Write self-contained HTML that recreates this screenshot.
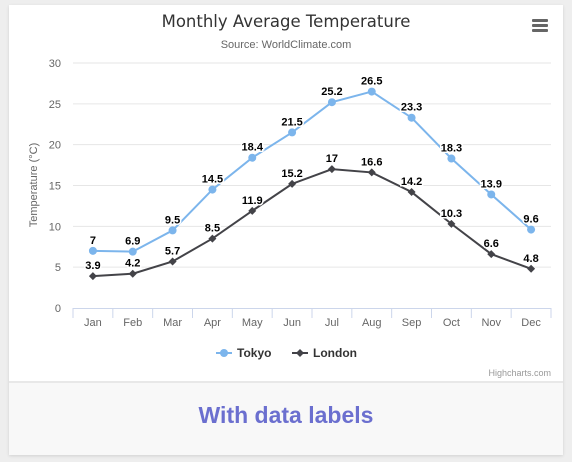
<!DOCTYPE html>
<html><head><meta charset="utf-8"><style>
html,body{margin:0;padding:0;background:#eeeeee;width:572px;height:462px;overflow:hidden;font-family:"Liberation Sans","DejaVu Sans",sans-serif}
#card{position:absolute;left:9px;top:5px;width:554px;height:450px;background:#fff;box-shadow:0 1px 3px rgba(0,0,0,0.12)}
#foot{position:absolute;left:9px;top:381px;width:554px;height:74px;background:#f8f8f8;border-top:2px solid #e8e8e8;box-sizing:border-box;text-align:center}
#foot span{display:block;margin-top:19px;font-size:23px;font-weight:bold;color:#6b6fcf}
svg{position:absolute;left:0;top:0}
</style></head><body>
<div id="card"></div>
<div id="foot"><span>With data labels</span></div>
<svg id="c" width="572" height="380" font-family="Liberation Sans, DejaVu Sans, sans-serif">
<text x="286" y="27" text-anchor="middle" font-size="16.5" font-family="DejaVu Sans, sans-serif" fill="#333">Monthly Average Temperature</text>
<text x="286" y="48" text-anchor="middle" font-size="11" fill="#666">Source: WorldClimate.com</text>
<g fill="#666"><rect x="532" y="19" width="16" height="3" rx="1"/><rect x="532" y="24" width="16" height="3" rx="1"/><rect x="532" y="29" width="16" height="3" rx="1"/></g>
<text transform="translate(37,185) rotate(-90)" text-anchor="middle" font-size="11" fill="#666">Temperature (°C)</text>
<g id="grid"></g><g id="series"></g>
<g font-size="12" font-weight="bold" fill="#333">
<g><line x1="216" y1="353" x2="232" y2="353" stroke="#7cb5ec" stroke-width="2"/><circle cx="224" cy="353" r="4" fill="#7cb5ec"/><text x="237" y="357">Tokyo</text></g>
<g><line x1="292" y1="353" x2="308" y2="353" stroke="#434348" stroke-width="2"/><path d="M300 349 L304 353 L300 357 L296 353Z" fill="#434348"/><text x="313" y="357">London</text></g>
</g>
<text x="551" y="376" text-anchor="end" font-size="9" fill="#999">Highcharts.com</text>
</svg>
<script>
const categories=['Jan','Feb','Mar','Apr','May','Jun','Jul','Aug','Sep','Oct','Nov','Dec'];
const tokyo=[7.0,6.9,9.5,14.5,18.4,21.5,25.2,26.5,23.3,18.3,13.9,9.6];
const london=[3.9,4.2,5.7,8.5,11.9,15.2,17.0,16.6,14.2,10.3,6.6,4.8];
const yTicks=[0,5,10,15,20,25,30];
const NS='http://www.w3.org/2000/svg';
const L=73,R=551,T=63,B=308,yMax=30;
const bw=(R-L)/categories.length;
const xS=i=>L+bw*(i+0.5);
const yS=v=>B-(v/yMax)*(B-T);
function mk(t,a,p){const e=document.createElementNS(NS,t);for(const k in a)e.setAttribute(k,a[k]);p.appendChild(e);return e;}
const g=document.getElementById('grid'),s=document.getElementById('series');
yTicks.forEach(v=>{
 if(v>0){const l=mk('line',{x1:L,x2:R,y1:yS(v),y2:yS(v),stroke:'#e6e6e6'},g);
 
 }
 const t=mk('text',{x:61,y:yS(v)+4,'text-anchor':'end','font-size':11,fill:'#666'},g);t.textContent=v;
 
 
});
const ax=mk('line',{x1:L,x2:R,y1:B+0.5,y2:B+0.5,stroke:'#ccd6eb'},g);


for(let i=0;i<=categories.length;i++){const x=L+bw*i;mk('line',{x1:x,x2:x,y1:B,y2:B+10,stroke:'#ccd6eb'},g);}
categories.forEach((c,i)=>{const t=mk('text',{x:xS(i),y:B+18,'text-anchor':'middle','font-size':11,fill:'#666'},g);t.textContent=c;
 
 });
function draw(data,color,name,diamond){
 const gg=mk('g',{},s);
 
 
 mk('path',{d:data.map((v,i)=>(i?'L':'M')+xS(i)+' '+yS(v)).join(' '),fill:'none',stroke:color,'stroke-width':2},gg);
 data.forEach((v,i)=>{const x=xS(i),y=yS(v);let m;
  if(diamond)m=mk('path',{d:`M${x} ${y-4}L${x+4} ${y}L${x} ${y+4}L${x-4} ${y}Z`,fill:color},gg);
  else m=mk('circle',{cx:x,cy:y,r:4,fill:color},gg);
  
  
  const t=mk('text',{x:x,y:y-7,'text-anchor':'middle','font-size':11,'font-weight':'bold',fill:'#000',stroke:'#fff','stroke-width':3,'paint-order':'stroke'},gg);
  t.textContent=v;
  
  
 });
}
draw(tokyo,'#7cb5ec','tokyo',false);
draw(london,'#434348','london',true);
</script>
</body></html>
